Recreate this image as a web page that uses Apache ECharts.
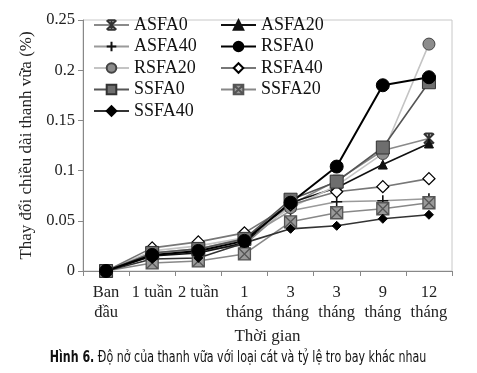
<!DOCTYPE html>
<html><head><meta charset="utf-8">
<script src="https://cdn.jsdelivr.net/npm/echarts@6/dist/echarts.min.js"></script>
<style>html,body{margin:0;padding:0;background:#fff}#c{width:477px;height:373px}</style>
</head><body><div id="c"></div>
<script>
const categories = ["Ban\nđầu", "1 tuần", "2 tuần", "1\ntháng", "3\ntháng", "3\ntháng", "9\ntháng", "12\ntháng"];
const yTicks = [0, 0.05, 0.1, 0.15, 0.2, 0.25];
const ASFA0  = [0, 0.015, 0.020, 0.026, 0.066, 0.090, 0.120, 0.132];
const ASFA20 = [0, 0.015, 0.018, 0.028, 0.068, 0.083, 0.106, 0.127];
const ASFA40 = [0, 0.018, 0.022, 0.032, 0.060, 0.069, 0.070, 0.072];
const RSFA0  = [0, 0.016, 0.020, 0.030, 0.068, 0.104, 0.185, 0.193];
const RSFA20 = [0, 0.020, 0.025, 0.033, 0.063, 0.085, 0.117, 0.226];
const RSFA40 = [0, 0.023, 0.029, 0.038, 0.066, 0.079, 0.084, 0.092];
const SSFA0  = [0, 0.018, 0.022, 0.032, 0.071, 0.089, 0.123, 0.188];
const SSFA20 = [0, 0.008, 0.010, 0.017, 0.049, 0.058, 0.062, 0.068];
const SSFA40 = [0, 0.012, 0.013, 0.028, 0.042, 0.045, 0.052, 0.056];

const serif = '"Liberation Serif", "Times New Roman", serif';
function ser(name, data, lineColor, lw, symbol, size, fill, border, bw) {
  return {
    name: name, type: 'line', data: data, symbol: symbol, symbolSize: size,
    lineStyle: { color: lineColor, width: lw },
    itemStyle: { color: fill, borderColor: border, borderWidth: bw },
    emphasis: { disabled: true }, animation: false
  };
}
const asterisk = 'path://M2,0L8,0M2,10L8,10M1,0L9,10M9,0L1,10M5,0L5,10';
const plus = 'path://M5,0L5,10M0,5L10,5';
const xsq = 'path://M0,0L10,0L10,10L0,10ZM0,0L10,10M10,0L0,10';
const legendText = { fontFamily: serif, fontSize: 18, color: '#111', lineHeight: 17 };

const chart = echarts.init(document.getElementById('c'), null, { renderer: 'canvas' });
chart.setOption({
  backgroundColor: '#fff',
  animation: false,
  grid: { left: 83, right: 25, top: 20, bottom: 102, show: true, borderColor: '#c8c8c8', borderWidth: 1 },
  legend: [
    { data: ['ASFA0', 'ASFA40', 'RSFA20', 'SSFA0', 'SSFA40'], orient: 'vertical', left: 93, top: 16,
      padding: 0, itemWidth: 35, itemHeight: 12, itemGap: 3.5, textStyle: legendText },
    { data: ['ASFA20', 'RSFA0', 'RSFA40', 'SSFA20'], orient: 'vertical', left: 220, top: 16,
      padding: 0, itemWidth: 35, itemHeight: 12, itemGap: 3.5, textStyle: legendText }
  ],
  xAxis: {
    type: 'category', data: categories, boundaryGap: true,
    name: 'Thời gian', nameLocation: 'middle', nameGap: 48,
    nameTextStyle: { fontFamily: serif, fontSize: 17, color: '#222' },
    axisLine: { lineStyle: { color: '#888', width: 1 } },
    axisTick: { show: true, length: 5, lineStyle: { color: '#888' } },
    axisLabel: { fontFamily: serif, fontSize: 16.5, color: '#222', lineHeight: 20, margin: 12, interval: 0 }
  },
  yAxis: {
    type: 'value', min: yTicks[0], max: yTicks[yTicks.length - 1], interval: 0.05,
    name: 'Thay đổi chiều dài thanh vữa (%)', nameLocation: 'middle', nameGap: 48, nameRotate: 90,
    nameTextStyle: { fontFamily: serif, fontSize: 17, color: '#222' },
    axisLine: { show: true, lineStyle: { color: '#888', width: 1 } },
    axisTick: { show: true, length: 5, lineStyle: { color: '#888' } },
    splitLine: { show: false },
    axisLabel: { fontFamily: serif, fontSize: 16.5, color: '#222', margin: 8 }
  },
  series: [
    ser('ASFA0', ASFA0, '#8a8a8a', 1.6, asterisk, 10, 'rgba(0,0,0,0)', '#333', 2),
    ser('ASFA20', ASFA20, '#111', 1.6, 'triangle', 9, '#111', '#111', 1),
    ser('ASFA40', ASFA40, '#9a9a9a', 1.6, plus, 11, 'rgba(0,0,0,0)', '#111', 1.6),
    ser('RSFA20', RSFA20, '#c4c4c4', 1.6, 'circle', 12, '#8c8c8c', '#444', 1),
    ser('RSFA40', RSFA40, '#777', 1.6, 'diamond', 12, '#fff', '#000', 1.3),
    ser('SSFA20', SSFA20, '#888', 1.6, xsq, 12, '#9a9a9a', '#555', 1.3),
    ser('SSFA40', SSFA40, '#333', 1.6, 'diamond', 9, '#000', '#000', 1),
    ser('SSFA0', SSFA0, '#555', 1.6, 'rect', 13, '#6e6e6e', '#333', 1),
    ser('RSFA0', RSFA0, '#000', 2, 'circle', 13, '#000', '#000', 1)
  ],
  graphic: [{
    type: 'text', x: 238, y: 358, scaleX: 0.77,
    style: {
      text: '{b|Hình 6.} Độ nở của thanh vữa với loại cát và tỷ lệ tro bay khác nhau',
      fill: '#111', align: 'center', verticalAlign: 'middle',
      font: '16px "DejaVu Sans Condensed", "Noto Sans", sans-serif',
      rich: { b: { fontWeight: 'bold', fontFamily: '"DejaVu Sans Condensed", "Noto Sans", sans-serif', fontSize: 16 } }
    }
  }]
});
</script></body></html>
